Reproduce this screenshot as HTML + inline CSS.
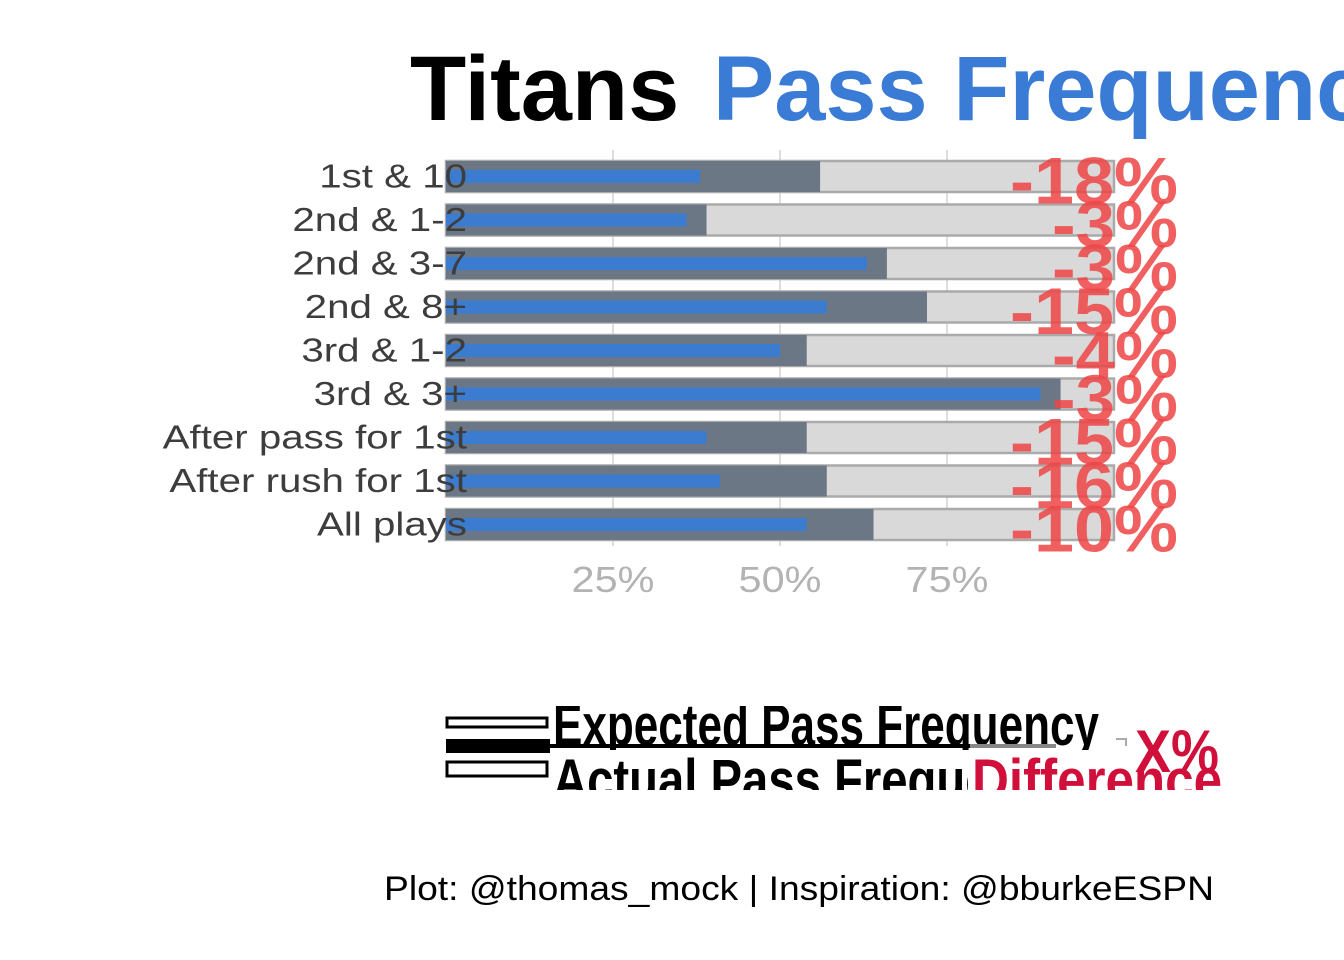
<!DOCTYPE html>
<html><head><meta charset="utf-8">
<style>
html,body{margin:0;padding:0;background:#fff;}
svg{display:block;}
text{font-family:"Liberation Sans",sans-serif;}
</style></head>
<body>
<svg id="chart" width="1344" height="960" viewBox="0 0 1344 960" xmlns="http://www.w3.org/2000/svg">
<defs>
<clipPath id="legTop"><rect x="540" y="706" width="600" height="44"/></clipPath>
<clipPath id="legBot"><rect x="540" y="750" width="700" height="40"/></clipPath>
</defs>
<text x="410" y="120" font-size="92" font-weight="bold" fill="#000">Titans <tspan fill="#3a7bd5" dx="8">Pass Frequency</tspan></text>
<g id="grid"></g>
<g id="bars"></g>
<g id="labels"></g>
<g id="xaxis"></g>
<g id="legend">
  <rect x="447" y="718" width="100" height="9" fill="none" stroke="#000" stroke-width="3"/>
  <rect x="446" y="739" width="104" height="14" fill="#000"/>
  <rect x="447" y="762" width="100" height="14" fill="none" stroke="#000" stroke-width="3"/>
  <text clip-path="url(#legTop)" x="553" y="745" font-size="58" font-weight="bold" fill="#000" textLength="546" lengthAdjust="spacingAndGlyphs">Expected Pass Frequency</text>
  <line x1="548" y1="746" x2="970" y2="746" stroke="#000" stroke-width="4"/>
  <line x1="970" y1="746" x2="1056" y2="746" stroke="#888" stroke-width="4"/>
  <text clip-path="url(#legBot)" x="553" y="800" font-size="58" font-weight="bold" fill="#000" textLength="520" lengthAdjust="spacingAndGlyphs">Actual Pass Frequency</text>
  <rect x="968" y="750" width="240" height="40" fill="#fff"/>
  <text clip-path="url(#legBot)" x="972" y="800" font-size="58" font-weight="bold" fill="#d0103a" textLength="250" lengthAdjust="spacingAndGlyphs">Difference</text>
  <path d="M1116 739 H1126 V746" fill="none" stroke="#aaa" stroke-width="2"/>
  <text x="1135" y="772" font-size="60" font-weight="bold" fill="#d0103a" textLength="84" lengthAdjust="spacingAndGlyphs">X%</text>
</g>
<text x="384" y="900" font-size="34" fill="#000" textLength="830" lengthAdjust="spacingAndGlyphs">Plot: @thomas_mock | Inspiration: @bburkeESPN</text>
</svg>
<script>
const categories = ["1st & 10","2nd & 1-2","2nd & 3-7","2nd & 8+","3rd & 1-2","3rd & 3+","After pass for 1st","After rush for 1st","All plays"];
const expected = [56,39,66,72,54,92,54,57,64];
const actual = [38,36,63,57,50,89,39,41,54];
const diffs = [-18,-3,-3,-15,-4,-3,-15,-16,-10];
const ticks = [25,50,75];
const tickLabels = ["25%","50%","75%"];

const NS="http://www.w3.org/2000/svg";
const x0=446, x1=1114;
const xs=v=>x0+(x1-x0)*v/100;
const yc=i=>176.5+i*43.5;
function mk(tag,attrs,parent,txt){const e=document.createElementNS(NS,tag);for(const k in attrs)e.setAttribute(k,attrs[k]);if(txt!==undefined)e.textContent=txt;parent.appendChild(e);return e;}
const grid=document.getElementById('grid'),bars=document.getElementById('bars'),labels=document.getElementById('labels'),xaxis=document.getElementById('xaxis');
ticks.forEach((t,i)=>{
  const l=mk('line',{x1:xs(t),x2:xs(t),y1:150,y2:546,stroke:'#cccccc','stroke-width':1.3},grid);
  
  
  const tx=mk('text',{x:xs(t),y:592,'font-size':36,fill:'#b3b3b3','text-anchor':'middle'},xaxis,tickLabels[i]);
  
  
  tx.setAttribute('textLength',tx.getComputedTextLength()*1.15);
  tx.setAttribute('lengthAdjust','spacingAndGlyphs');
});
categories.forEach((c,i)=>{
  const y=yc(i);
  const bg=mk('rect',{x:x0,y:y-15.5,width:xs(100)-x0,height:31,fill:'#d9d9d9',stroke:'#aaaaaa','stroke-width':2.5},bars);
  
  
  const ex=mk('rect',{x:x0,y:y-15.5,width:xs(expected[i])-x0,height:31,fill:'#6b7785'},bars);
  
  
  const ac=mk('rect',{x:x0,y:y-6.5,width:xs(actual[i])-x0,height:13,fill:'#3b7cd0'},bars);
  
  
  const lb=mk('text',{x:467,y:y+11,'font-size':33,fill:'#3d3d3d','text-anchor':'end'},labels,c);
  
  
  lb.setAttribute('textLength',lb.getComputedTextLength()*1.22);
  lb.setAttribute('lengthAdjust','spacingAndGlyphs');
  const s=diffs[i]+'%';
  const dl=mk('text',{x:1178,y:y+27,'font-size':66,'font-weight':'bold',fill:'#ee4444','fill-opacity':0.85,'text-anchor':'end',textLength:s.length*42,lengthAdjust:'spacingAndGlyphs'},labels,s);
  
  
});
</script>
</body></html>
